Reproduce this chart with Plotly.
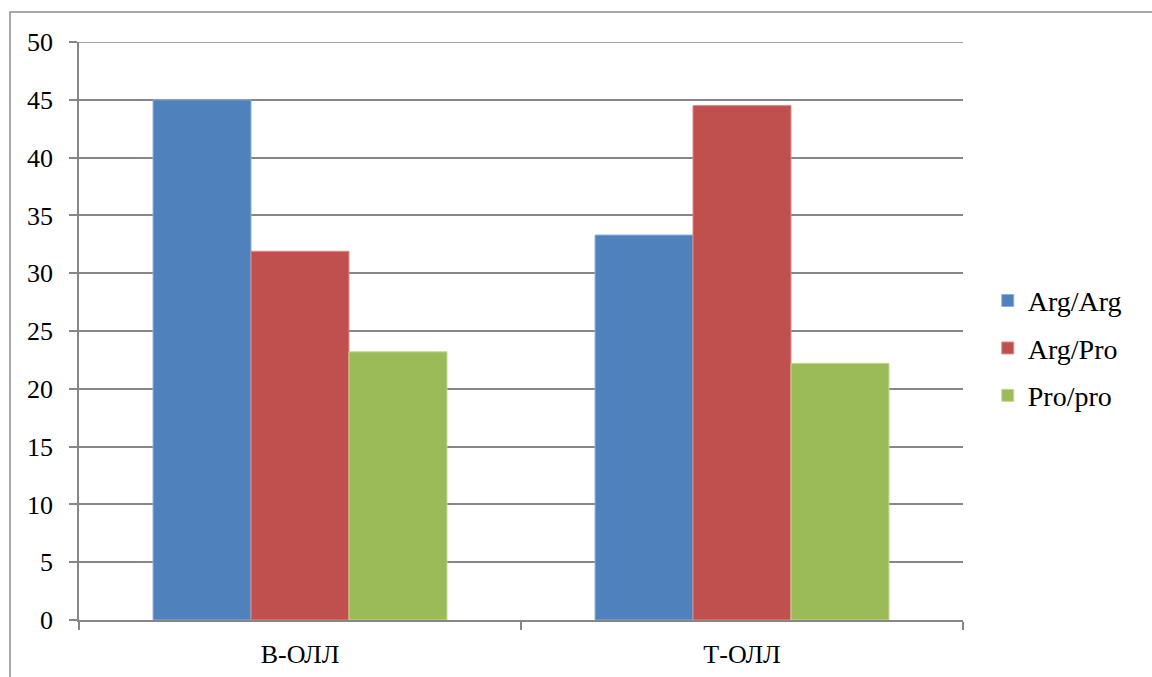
import plotly.graph_objects as go

# Data
categories = ["В-ОЛЛ", "Т-ОЛЛ"]
series_names = ["Arg/Arg", "Arg/Pro", "Pro/pro"]
arg_arg = [45.0, 33.3]
arg_pro = [31.9, 44.5]
pro_pro = [23.2, 22.2]
y_ticks = [0, 5, 10, 15, 20, 25, 30, 35, 40, 45, 50]
y_max = 50

colors = ["#4F81BD", "#C0504D", "#9BBB59"]
edge = ["#8FAEDB", "#E08A88", "#C2DA8E"]
grid = "#868686"
font_family = "Liberation Serif"

fig = go.Figure()
for i, (name, vals) in enumerate(zip(series_names, [arg_arg, arg_pro, pro_pro])):
    fig.add_trace(go.Bar(
        x=categories, y=vals, name=name,
        marker=dict(color=colors[i], line=dict(color=edge[i], width=1)),
        legendgroup=name,
    ))

fig.update_layout(
    width=1152, height=677,
    margin=dict(l=79, r=189, t=42, b=57),
    paper_bgcolor="white", plot_bgcolor="white",
    barmode="group", bargap=0.335, bargroupgap=0,
    font=dict(family=font_family, size=26, color="#000000"),
    showlegend=True,
    legend=dict(
        x=1.028, y=0.47, xanchor="left", yanchor="middle",
        font=dict(family=font_family, size=28, color="#000000"),
        tracegroupgap=8, bgcolor="rgba(0,0,0,0)",
    ),
    xaxis=dict(
        automargin=False,
        showgrid=False, showline=True, linecolor=grid, linewidth=1.5,
        ticks="outside", tickson="boundaries", ticklen=8, tickcolor=grid,
        tickwidth=1.5, ticklabelstandoff=10,
        tickfont=dict(family=font_family, size=26),
    ),
    yaxis=dict(
        automargin=False,
        range=[0, y_max], tickvals=y_ticks,
        showgrid=True, gridcolor=grid, gridwidth=1.5,
        showline=True, linecolor=grid, linewidth=1.5,
        ticks="outside", ticklen=8, tickcolor=grid, tickwidth=1.5,
        ticklabelstandoff=11, zeroline=False,
        tickfont=dict(family=font_family, size=26),
    ),
    shapes=[
        dict(
            type="rect", xref="paper", yref="paper",
            x0=-69 / 884, x1=1.5, y0=-0.5, y1=(620 - 12) / 578,
            line=dict(color="#8C8C8C", width=1.5), fillcolor="rgba(0,0,0,0)",
            layer="below",
        ),
        # top gridline at the axis maximum
        dict(
            type="line", xref="paper", yref="y",
            x0=0, x1=1, y0=y_max, y1=y_max,
            line=dict(color=grid, width=1.5), layer="below",
        ),
    ],
)

fig.write_html("out.html")
